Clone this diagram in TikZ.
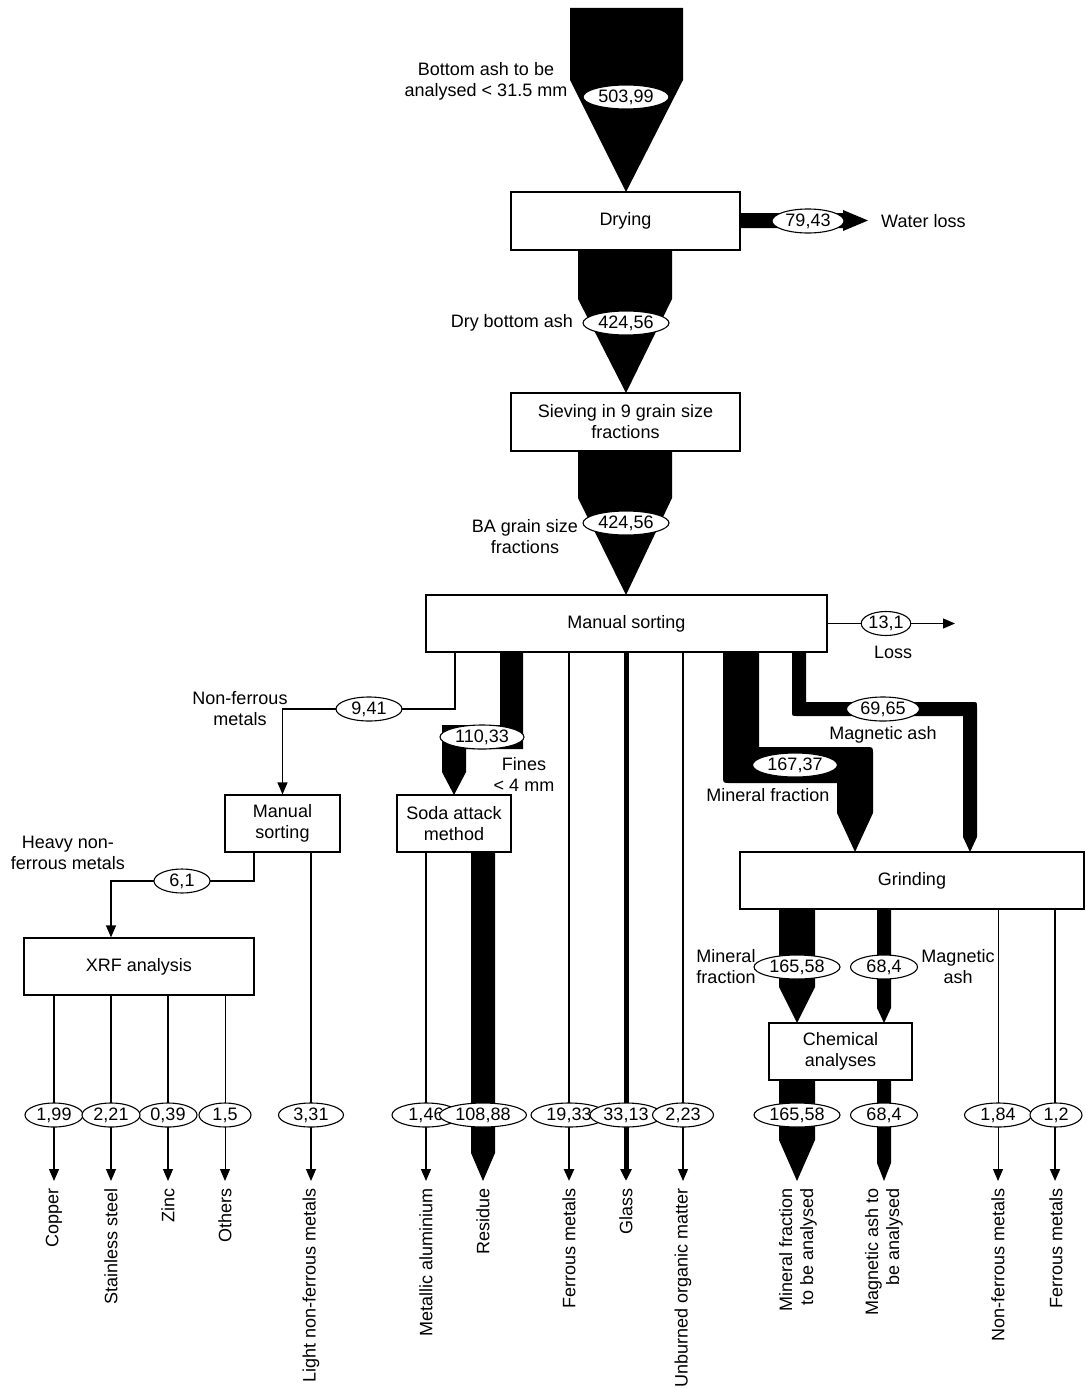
\documentclass[tikz,border=0pt]{standalone}
\usepackage{fontspec}
\setmainfont{Liberation Sans}
\usetikzlibrary{shapes.geometric,arrows.meta}
\pgfdeclarelayer{bg}
\pgfsetlayers{bg,main}
\begin{document}
\begin{tikzpicture}[x=1pt,y=-1pt,
  font=\fontsize{18}{21}\selectfont,
  box/.style={draw, line width=1.2pt, fill=white, inner sep=0pt, align=center},
  ell/.style={ellipse, draw, line width=1.1pt, fill=white, inner sep=0pt, minimum height=24pt, minimum width=#1},
  lbl/.style={align=center, inner sep=0pt},
  vlbl/.style={rotate=90, anchor=east, inner sep=0pt, align=right},
  thinarr/.style={line width=1.2pt, -{Triangle[width=10pt,length=12pt]}},
  midarr/.style={line width=2.4pt, -{Triangle[width=10pt,length=12pt]}},
  fatarr/.style={line width=5pt, -{Triangle[width=11pt,length=12pt]}}]
\useasboundingbox (0,0) rectangle (1086,1389);

% ---------- boxes ----------
\node[box, minimum width=229pt, minimum height=58pt] (dry) at (625.5,221) {Drying};
\node[box, minimum width=229pt, minimum height=58pt] (sieve) at (625.5,422) {Sieving in 9 grain size\\fractions};
\node[box, minimum width=401pt, minimum height=57pt] (ms) at (626.5,623.5) {Manual sorting};
\node[box, minimum width=115pt, minimum height=57pt] (ms2) at (282.5,823.5) {Manual\\sorting};
\node[box, minimum width=114pt, minimum height=57pt] (soda) at (454,823.5) {Soda attack\\method};
\node[box, minimum width=344pt, minimum height=57pt] (grind) at (912,880.5) {Grinding};
\node[box, minimum width=230pt, minimum height=57pt] (xrf) at (139,966.5) {XRF analysis};
\node[box, minimum width=143pt, minimum height=57pt] (chem) at (840.5,1051.5) {Chemical\\analyses};

% ---------- coordinates ----------
\coordinate (nfA) at (455,709);
\coordinate (hvA) at (254,881);
\coordinate (hvB) at (111,881);
\coordinate (lossEnd) at (955,623.5);
\coordinate (tCu) at (54,1181);
\coordinate (tSs) at (111,1181);
\coordinate (tZn) at (168,1181);
\coordinate (tOt) at (225,1181);
\coordinate (tLn) at (311,1181);
\coordinate (tAl) at (426,1181);
\coordinate (tFe) at (569,1181);
\coordinate (tGl) at (626,1181);
\coordinate (tUo) at (683,1181);
\coordinate (tNf) at (998,1181);
\coordinate (tFm) at (1055,1181);

\begin{pgfonlayer}{bg}
% ---------- black streams ----------
\fill (570,8) -- (683,8) -- (683,80) -- (626,192) -- (570,80) -- cycle;
\fill (740,213) -- (843,213) -- (843,210) -- (868,220.5) -- (843,231) -- (843,228) -- (740,228) -- cycle;
\fill (578,250) -- (672,250) -- (672,299) -- (626,393) -- (578,299) -- cycle;
\fill (578,451) -- (672,451) -- (672,498) -- (626,595) -- (578,498) -- cycle;
% fines
\fill (500,652) -- (523,652) -- (523,749) -- (466,749) -- (466,772) -- (454,795) -- (442,772) -- (442,725) -- (500,725) -- cycle;
% mineral fraction
\fill (723,652) -- (723,776) .. controls (723,783) .. (730,783) -- (837,783) -- (837,813) -- (855,852)
  -- (873,813) -- (873,754) .. controls (873,747) .. (866,747) -- (759,747) -- (759,652) -- cycle;
% magnetic ash
\fill (792,652) -- (792,711) .. controls (792,716) .. (797,716) -- (963,716) -- (963,837) -- (970,852)
  -- (977,837) -- (977,707) .. controls (977,702) .. (972,702) -- (806,702) -- (806,652) -- cycle;
% residue
\fill (471,852) -- (495,852) -- (495,1153) -- (483,1181) -- (471,1153) -- cycle;
% grinding -> chemical
\fill (779,909) -- (815,909) -- (815,987) -- (797,1023) -- (779,987) -- cycle;
\fill (877,909) -- (891,909) -- (891,1008) -- (884,1023) -- (877,1008) -- cycle;
% chemical -> outputs
\fill (779,1080) -- (815,1080) -- (815,1140) -- (797,1181) -- (779,1140) -- cycle;
\fill (877,1080) -- (891,1080) -- (891,1163) -- (884,1181) -- (877,1163) -- cycle;

% ---------- thin connectors ----------
\draw[thinarr] (ms.east) -- (lossEnd);
\draw[thinarr] (ms.south -| nfA) -- (nfA) -- (nfA -| ms2.north) -- (ms2.north);
\draw[thinarr] (ms2.south -| hvA) -- (hvA) -- (hvB) -- (hvB |- xrf.north);
\draw[thinarr] (ms2.south -| tLn) -- (tLn);
\draw[thinarr] (xrf.south -| tCu) -- (tCu);
\draw[thinarr] (xrf.south -| tSs) -- (tSs);
\draw[thinarr] (xrf.south -| tZn) -- (tZn);
\draw[thinarr, line width=1pt] (xrf.south -| tOt) -- (tOt);
\draw[thinarr] (soda.south -| tAl) -- (tAl);
\draw[midarr] (ms.south -| tFe) -- (tFe);
\draw[fatarr] (ms.south -| tGl) -- (tGl);
\draw[thinarr] (ms.south -| tUo) -- (tUo);
\draw[thinarr, line width=1pt] (grind.south -| tNf) -- (tNf);
\draw[thinarr, line width=1.8pt] (grind.south -| tFm) -- (tFm);
\end{pgfonlayer}

% ---------- flow value ellipses ----------
\node[ell=86pt] (v1) at (626,97) {503,99};
\node[ell=72pt] (vw) at (808,221) {79,43};
\node[ell=86pt] (v2) at (626,323) {424,56};
\node[ell=86pt] (v3) at (626,523) {424,56};
\node[ell=49pt] (vl) at (886,623.5) {13,1};
\node[ell=66pt] (vnf) at (369,709) {9,41};
\node[ell=84pt] (vfi) at (482,737) {110,33};
\node[ell=73pt] (vma) at (883,709) {69,65};
\node[ell=85pt] (vmi) at (795,765) {167,37};
\node[ell=56pt] (vhv) at (182,881) {6,1};
\node[ell=86pt] (vgm) at (797,967) {165,58};
\node[ell=67pt] (vga) at (884,967) {68,4};
\node[ell=58pt] (b1) at (54,1115) {1,99};
\node[ell=58pt] (b3) at (168,1115) {0,39};
\node[ell=58pt] (b2) at (111,1115) {2,21};
\node[ell=52pt] (b4) at (225,1115) {1,5};
\node[ell=65pt] (b5) at (311,1115) {3,31};
\node[ell=68pt] (b6) at (426,1115) {1,46};
\node[ell=87pt] (b7) at (483,1115) {108,88};
\node[ell=76pt] (b8) at (569,1115) {19,33};
\node[ell=72pt] (b9) at (626,1115) {33,13};
\node[ell=61pt] (b10) at (683,1115) {2,23};
\node[ell=86pt] (b11) at (797,1115) {165,58};
\node[ell=67pt] (b12) at (884,1115) {68,4};
\node[ell=67pt] (b13) at (998,1115) {1,84};
\node[ell=52pt] (b14) at (1056,1115) {1,2};

% ---------- labels ----------
\node[lbl] (tBA) at (486,81) {Bottom ash to be\\analysed < 31.5 mm};
\node[lbl, anchor=west] (tWL) at (881,221) {Water loss};
\node[lbl, anchor=east] (tDry) at (573,323) {Dry bottom ash};
\node[lbl] (tGS) at (525,537) {BA grain size\\fractions};
\node[lbl] (tLoss) at (893,652) {Loss};
\node[lbl] (tNF) at (240,709) {Non-ferrous\\metals};
\node[lbl] (tFines) at (524,774) {Fines\\< 4 mm};
\node[lbl] (tMag) at (883,735) {Magnetic ash};
\node[lbl] (tMin) at (768,795) {Mineral fraction};
\node[lbl] (tHv) at (68,853) {Heavy non-\\ferrous metals};
\node[lbl] (tMin2) at (726,967) {Mineral\\fraction};
\node[lbl] (tMag2) at (958,967) {Magnetic\\ash};

% ---------- output labels ----------
\node[vlbl] (oCu) at (54,1188) {Copper};
\node[vlbl] (oSs) at (111,1188) {Stainless steel};
\node[vlbl] (oZn) at (168,1188) {Zinc};
\node[vlbl] (oOt) at (225,1188) {Others};
\node[vlbl] (oLn) at (311,1188) {Light non-ferrous metals};
\node[vlbl] (oAl) at (426,1188) {Metallic aluminium};
\node[vlbl] (oRe) at (483,1188) {Residue};
\node[vlbl] (oFe) at (569,1188) {Ferrous metals};
\node[vlbl] (oGl) at (626,1188) {Glass};
\node[vlbl] (oUo) at (683,1188) {Unburned organic matter};
\node[vlbl] (oMi) at (798,1188) {Mineral fraction\\to be analysed};
\node[vlbl] (oMa) at (884,1188) {Magnetic ash to\\be analysed};
\node[vlbl] (oNf) at (998,1188) {Non-ferrous metals};
\node[vlbl] (oFm) at (1056,1188) {Ferrous metals};
\end{tikzpicture}
\end{document}
